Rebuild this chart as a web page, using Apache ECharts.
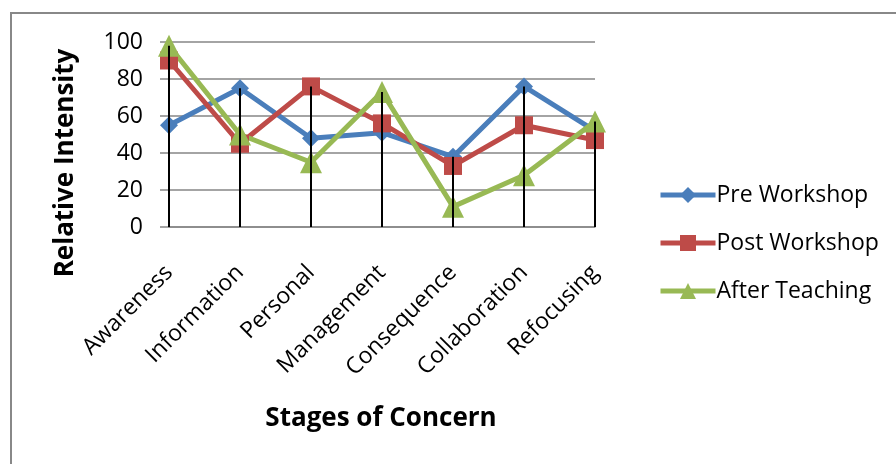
<!DOCTYPE html>
<html><head><meta charset="utf-8">
<script src="https://cdn.jsdelivr.net/npm/echarts@6/dist/echarts.min.js"></script>
<style>html,body{margin:0;padding:0;background:#fff}#c{width:896px;height:464px}</style>
</head><body><div id="c"></div>
<script>
const categories = ['Awareness','Information','Personal','Management','Consequence','Collaboration','Refocusing'];
const preWorkshop = [55, 75, 48, 51, 38, 76, 52];
const postWorkshop = [90, 45, 76, 56, 33, 55, 47];
const afterTeaching = [98, 50, 35, 73, 11, 28, 57];
const seriesNames = ['Pre Workshop', 'Post Workshop', 'After Teaching'];
const yAxisTitle = 'Relative Intensity';
const xAxisTitle = 'Stages of Concern';

const FONT = '"Open Sans", sans-serif';
const dropData = categories.map((c, i) => [i, Math.max(preWorkshop[i], postWorkshop[i], afterTeaching[i])]);

const chart = echarts.init(document.getElementById('c'), null, {renderer: 'canvas'});
const lineSeries = (name, data, color, symbol, size) => ({
  name, type: 'line', data, symbol, symbolSize: size, showSymbol: true,
  lineStyle: {color, width: 5}, itemStyle: {color}, z: 3, animation: false
});
chart.setOption({
  animation: false,
  backgroundColor: '#fff',
  grid: {left: 169, right: 301, top: 42, bottom: 237, containLabel: false},
  xAxis: {
    type: 'category', data: categories, boundaryGap: false,
    axisLine: {show: true, lineStyle: {color: '#868686', width: 1.5}},
    axisTick: {show: false},
    axisLabel: {rotate: 45, fontFamily: FONT, fontSize: 23, color: '#000', margin: 42, interval: 0}
  },
  yAxis: {
    type: 'value', min: 0, max: 100, interval: 20,
    axisLine: {show: false},
    axisTick: {show: true, length: 9, lineStyle: {color: '#868686', width: 1.5}},
    splitLine: {show: true, lineStyle: {color: '#868686', width: 1.5}},
    axisLabel: {fontFamily: FONT, fontSize: 23, color: '#000', margin: 26}
  },
  legend: {
    orient: 'vertical', left: 658, top: 183, itemGap: 24, padding: 0,
    itemWidth: 55, itemHeight: 20,
    lineStyle: {width: 5},
    textStyle: {fontFamily: FONT, fontSize: 23, color: '#000', lineHeight: 24, padding: [0,0,0,-4]},
    data: seriesNames
  },
  series: [
    lineSeries(seriesNames[0], preWorkshop, '#4A7EBB', 'diamond', 18),
    lineSeries(seriesNames[1], postWorkshop, '#BE4B48', 'rect', 18),
    lineSeries(seriesNames[2], afterTeaching, '#98B954', 'triangle', 22),
    {
      type: 'custom', z: 5, silent: true,
      data: dropData,
      renderItem: (params, api) => {
        const top = api.coord([api.value(0), api.value(1)]);
        const bottom = api.coord([api.value(0), 0]);
        return {type: 'line', shape: {x1: top[0], y1: top[1], x2: bottom[0], y2: bottom[1]},
          style: {stroke: '#000', lineWidth: 2}};
      }
    }
  ],
  graphic: [
    {type: 'rect', shape: {x: 11, y: 13, width: 1000, height: 1000}, style: {fill: 'none', stroke: '#888', lineWidth: 2}, z: -1},
    {type: 'text', x: 66, y: 163, rotation: Math.PI / 2,
      style: {text: yAxisTitle, font: 'bold 26px ' + FONT, fill: '#000', textAlign: 'center', textVerticalAlign: 'middle'}},
    {type: 'text', x: 381, y: 419,
      style: {text: xAxisTitle, font: 'bold 26px ' + FONT, fill: '#000', textAlign: 'center', textVerticalAlign: 'middle'}}
  ]
});
</script>
</body></html>
